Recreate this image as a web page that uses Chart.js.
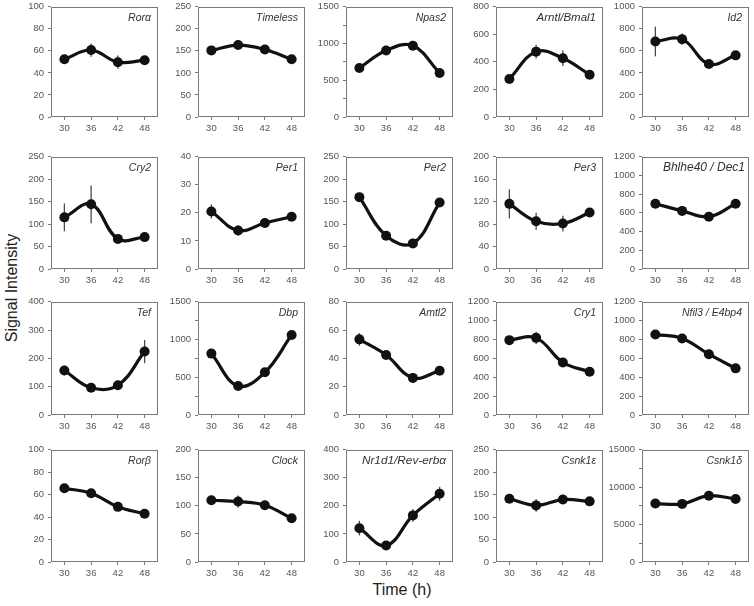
<!DOCTYPE html>
<html><head><meta charset="utf-8">
<script src="https://cdn.jsdelivr.net/npm/chart.js@4"></script>
<style>
html,body{margin:0;padding:0;background:#fff;}
body{width:754px;height:606px;position:relative;overflow:hidden;font-family:"Liberation Sans",Arial,sans-serif;}
.p{position:absolute;}
#ylab{position:absolute;left:-53px;top:279px;width:130px;height:18px;line-height:18px;text-align:center;transform:rotate(-90deg);font-size:16px;color:#222;}
#xlab{position:absolute;left:352px;top:581px;width:100px;text-align:center;font-size:16px;color:#222;}
</style></head>
<body>
<div id="ylab">Signal Intensity</div>
<div id="xlab">Time (h)</div>
<script>
// ---- data ----
const times = ['30', '36', '42', '48'];
const geneNames = [
  'Rorα', 'Timeless', 'Npas2', 'Arntl/Bmal1', 'Id2',
  'Cry2', 'Per1', 'Per2', 'Per3', 'Bhlhe40 / Dec1',
  'Tef', 'Dbp', 'Amtl2', 'Cry1', 'Nfil3 / E4bp4',
  'Rorβ', 'Clock', 'Nr1d1/Rev-erbα', 'Csnk1ε', 'Csnk1δ'
];
const signalValues = [
  [52.4, 60.7, 49.7, 51.5], [151, 163, 153, 131], [667, 905, 968, 599], [276, 474, 426, 307], [685, 706, 480, 559],
  [115, 144, 67, 71], [20.5, 13.7, 16.4, 18.6], [160, 74, 57, 148], [116, 85, 81, 100.5], [698, 621, 558, 698],
  [157, 96, 105, 224], [813, 383, 565, 1060], [53.4, 42.4, 26.2, 31.3], [793, 817, 556, 459], [852, 811, 644, 494],
  [65.6, 61.2, 49.1, 42.9], [110, 107.6, 101.2, 77.8], [120.5, 58.5, 166, 243], [140.7, 126, 139, 135], [7807, 7763, 8860, 8420]
];
const signalErrors = [
  [1.5, 6, 6, 0], [10, 7, 4, 0], [0, 0, 0, 0], [0, 50, 56, 0], [135, 52, 22, 0],
  [31, 42, 5, 6], [2.5, 1.8, 1.8, 0.5], [10, 3, 3, 3], [26, 15, 14, 5], [0, 0, 0, 0],
  [17, 5, 7, 41], [20, 20, 30, 20], [4.5, 1.5, 3.5, 1], [15, 64, 20, 10], [15, 15, 15, 10],
  [1.5, 3.6, 1.5, 1], [3, 11, 8, 2], [26, 5, 23, 25], [4, 14, 3, 3], [200, 200, 200, 200]
];
const yMax = [100, 250, 1500, 800, 1000, 250, 40, 250, 200, 1200, 400, 1500, 80, 1200, 1200, 100, 200, 400, 250, 15000];
const yTickStep = [20, 50, 250, 200, 200, 50, 10, 50, 40, 200, 100, 250, 20, 200, 200, 20, 50, 100, 50, 2500];
const yLabelStep = [20, 50, 500, 200, 200, 50, 10, 50, 40, 200, 100, 500, 20, 200, 200, 20, 50, 100, 50, 5000];

// ---- layout / style ----
const colLeft = [51, 198, 346, 496, 642];
const rowTop = [5, 155, 300, 448];
const rowBottom = [117, 269, 415, 562];
const boxW = 111;
const padL = 46, padT = 8, padB = 22;
const titleFont = {3: 11.5, 9: 12, 17: 11.8};
const titleInset = {9: 4};
const FONT = '"Liberation Sans", Arial, sans-serif';

const panelPlugin = {
  id: 'panelDeco',
  beforeDatasetsDraw(chart) {
    const ctx = chart.ctx, ca = chart.chartArea;
    const i = chart.options.plugins.panelDeco.idx;
    ctx.save();
    ctx.strokeStyle = '#7a7a7a';
    ctx.lineWidth = 1;
    ctx.strokeRect(Math.round(ca.left) + 0.5, Math.round(ca.top) + 0.5, Math.round(ca.width) - 1, Math.round(ca.height) - 1);
    const xs = chart.scales.x, ys = chart.scales.y;
    ctx.strokeStyle = '#4a4a4a';
    ctx.lineWidth = 1.3;
    signalValues[i].forEach((v, j) => {
      const e = signalErrors[i][j];
      if (!e) return;
      const x = xs.getPixelForValue(j);
      ctx.beginPath();
      ctx.moveTo(x, ys.getPixelForValue(v - e));
      ctx.lineTo(x, ys.getPixelForValue(v + e));
      ctx.stroke();
    });
    ctx.restore();
  },
  afterDraw(chart) {
    const ctx = chart.ctx, ca = chart.chartArea;
    const i = chart.options.plugins.panelDeco.idx;
    ctx.save();
    ctx.font = 'italic ' + (titleFont[i] || 10.5) + 'px ' + FONT;
    ctx.fillStyle = '#333';
    ctx.textAlign = 'right';
    ctx.textBaseline = 'middle';
    ctx.fillText(geneNames[i], ca.right - (titleInset[i] || 7), ca.top + 11);
    ctx.restore();
  }
};

geneNames.forEach((g, i) => {
  const r = Math.floor(i / 5), c = i % 5;
  const L = colLeft[c], T = rowTop[r], H = rowBottom[r] - T;
  const w = padL + boxW + 1, h = padT + H + padB;
  const div = document.createElement('div');
  div.className = 'p';
  div.style.left = (L - padL) + 'px';
  div.style.top = (T - padT) + 'px';
  div.style.width = w + 'px';
  div.style.height = h + 'px';
  const cv = document.createElement('canvas');
  cv.width = w; cv.height = h;
  cv.style.width = w + 'px'; cv.style.height = h + 'px';
  div.appendChild(cv);
  document.body.appendChild(div);
  new Chart(cv, {
    type: 'line',
    data: {
      labels: times,
      datasets: [{
        data: signalValues[i],
        borderColor: '#111', borderWidth: 3.2,
        pointRadius: 5, pointBackgroundColor: '#111', pointBorderColor: '#111', pointBorderWidth: 0,
        tension: 0.4, fill: false, clip: 8
      }]
    },
    options: {
      responsive: false, animation: false, events: [], devicePixelRatio: 1,
      layout: {padding: {left: 0, top: padT, right: 1, bottom: 0}},
      plugins: {legend: {display: false}, tooltip: {enabled: false}, panelDeco: {idx: i}},
      scales: {
        x: {
          type: 'category', offset: true,
          grid: {display: true, drawOnChartArea: false, drawTicks: true, tickLength: 3, color: '#7a7a7a'},
          border: {display: false},
          ticks: {color: '#555', font: {size: 9.5, family: FONT}, padding: 3, maxRotation: 0, autoSkip: false},
          afterFit(s) { s.height = padB; }
        },
        y: {
          min: 0, max: yMax[i],
          grid: {display: true, drawOnChartArea: false, drawTicks: true, tickLength: 3, color: '#7a7a7a'},
          border: {display: false},
          ticks: {
            stepSize: yTickStep[i], autoSkip: false, color: '#555', font: {size: 9.5, family: FONT}, padding: 4,
            callback: v => (v % yLabelStep[i] === 0 ? String(v) : '')
          },
          afterFit(s) { s.width = padL; }
        }
      }
    },
    plugins: [panelPlugin]
  });
});
</script>
</body></html>
